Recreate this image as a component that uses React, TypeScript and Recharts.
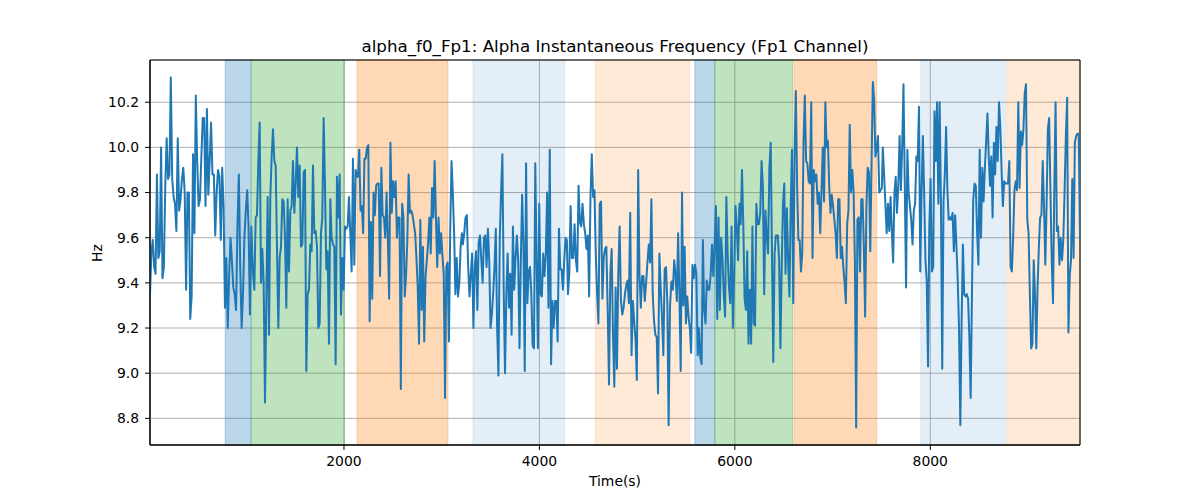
import { LineChart, Line, XAxis, YAxis, CartesianGrid, ReferenceArea } from 'recharts';

// axis limits and ticks
const X_MIN = 15;
const X_MAX = 9532;
const Y_MIN = 8.682;
const Y_MAX = 10.387;
const X_TICKS = [2000, 4000, 6000, 8000];
const Y_TICKS = [8.8, 9.0, 9.2, 9.4, 9.6, 9.8, 10.0, 10.2];

// alpha frequency (Hz), read in ten stretches of the time axis
const hz1 = [9.35, 9.53, 9.59, 9.47, 9.44, 9.88, 9.51, 9.54, 10.0, 9.42, 9.47, 9.83, 10.04, 9.86, 9.88, 10.31, 9.86, 9.78, 9.75, 9.63, 10.04, 9.72, 9.77, 9.86, 9.91, 9.8, 9.37, 9.8, 9.8, 9.24, 9.34, 9.97, 9.62, 10.23, 9.94, 9.74, 9.77, 9.96, 10.13, 10.13, 9.74, 10.17, 9.79, 9.94, 10.11, 9.88, 9.88, 9.61, 9.8, 9.9, 9.87, 9.59, 9.91, 9.74, 9.29, 9.51, 9.2, 9.43, 9.6, 9.5, 9.38, 9.35, 9.28, 9.65, 9.88, 9.47, 9.2, 9.35, 9.6, 9.72, 9.81, 9.65, 9.26, 9.65];
const hz2 = [9.44, 9.37, 9.69, 9.7, 9.94, 10.11, 9.4, 9.55, 9.4, 8.87, 9.32, 9.78, 9.17, 9.78, 9.96, 10.08, 9.94, 9.92, 9.56, 9.2, 9.51, 9.56, 9.77, 9.76, 9.6, 9.29, 9.77, 9.45, 9.72, 9.74, 9.94, 9.71, 9.84, 10.0, 9.78, 9.92, 9.56, 9.57, 9.89, 9.9, 9.01, 9.35, 9.37, 9.57, 9.54, 9.92, 9.62, 9.63, 9.56, 9.2, 9.22, 9.62, 9.69, 10.13, 9.83, 9.46, 9.54, 9.13, 9.77, 9.6, 9.57, 9.56, 9.04, 9.87, 9.69, 9.88, 9.26, 9.51, 9.37, 9.65, 9.64, 9.65, 9.78, 9.62, 9.45, 9.95, 9.48, 9.9, 9.87];
const hz3 = [9.87, 9.99, 9.72, 9.74, 9.62, 9.95, 9.95, 10.0, 10.01, 9.23, 9.67, 9.33, 9.8, 9.7, 9.83, 9.84, 9.84, 9.43, 9.91, 9.7, 9.69, 9.6, 9.8, 9.6, 9.33, 10.02, 9.71, 9.85, 9.78, 9.85, 9.6, 9.69, 9.69, 8.93, 9.75, 9.69, 9.34, 9.43, 9.59, 9.88, 9.71, 9.72, 9.7, 9.66, 9.62, 9.51, 9.38, 9.13, 9.68, 9.28, 9.56, 9.14, 9.43, 9.5, 9.58, 9.69, 9.53, 9.82, 9.69, 9.94, 9.69, 9.47, 9.69, 9.53, 9.62, 9.52, 9.44, 8.89, 9.47, 9.49, 9.14, 9.63, 9.94, 9.8, 9.62, 9.35, 9.51, 9.34, 9.4, 9.56, 9.62];
const hz4 = [9.57, 9.62, 9.69, 9.7, 9.47, 9.34, 9.44, 9.53, 9.2, 9.47, 9.54, 9.28, 9.58, 9.61, 9.5, 9.4, 9.6, 9.61, 9.47, 9.64, 9.5, 9.2, 9.26, 9.35, 9.47, 9.64, 9.2, 8.99, 9.59, 9.8, 9.97, 9.37, 9.0, 9.35, 9.53, 9.29, 9.44, 9.17, 9.65, 9.37, 9.51, 9.61, 9.5, 9.11, 9.49, 9.79, 9.57, 9.01, 9.93, 9.31, 9.45, 9.47, 9.35, 9.12, 9.11, 9.93, 9.5, 9.11, 9.75, 9.35, 9.34, 9.53, 9.43, 9.53, 9.8, 9.29, 9.99, 9.04, 9.32, 9.2, 9.32, 9.32, 9.14, 9.64, 9.46, 9.46, 9.37, 9.5, 9.6, 9.59];
const hz5 = [9.35, 9.44, 9.74, 9.51, 9.51, 9.66, 9.5, 9.45, 9.83, 9.67, 9.65, 9.75, 9.66, 9.62, 9.55, 9.61, 9.34, 9.78, 9.97, 9.78, 9.81, 9.53, 9.35, 9.22, 9.75, 9.76, 9.33, 9.51, 9.55, 9.56, 9.28, 8.95, 9.44, 9.55, 9.17, 8.94, 9.38, 9.02, 9.44, 9.65, 9.32, 9.26, 9.29, 9.35, 9.39, 9.41, 9.31, 9.71, 9.08, 9.32, 9.23, 9.15, 8.97, 9.9, 9.44, 9.29, 9.43, 9.43, 9.32, 9.4, 9.49, 9.57, 9.49, 9.77, 9.35, 9.23, 9.17, 9.16, 8.91, 9.53, 9.38, 9.25, 9.08, 9.46, 9.47, 9.32, 8.77, 9.29, 9.4, 9.41];
const hz6 = [9.37, 9.5, 9.44, 9.32, 9.62, 9.34, 9.01, 9.8, 9.3, 9.56, 9.22, 9.34, 9.25, 9.2, 9.09, 9.48, 9.42, 9.48, 9.44, 9.08, 9.2, 9.07, 9.04, 9.59, 9.28, 9.22, 9.41, 9.37, 9.37, 9.44, 9.57, 9.43, 9.57, 9.74, 9.24, 9.69, 9.28, 9.6, 9.51, 9.35, 9.25, 9.78, 9.53, 9.38, 9.31, 9.65, 9.2, 9.43, 9.74, 9.65, 9.5, 9.75, 9.66, 9.9, 9.66, 9.33, 9.28, 9.54, 9.13, 9.37, 9.13, 9.65, 9.22, 9.21, 9.75, 9.66, 9.66, 9.71, 9.94, 9.83, 9.35, 9.72, 9.6, 9.53, 9.91, 10.02, 9.53, 9.05, 9.53, 9.61];
const hz7 = [9.61, 9.5, 9.11, 9.47, 9.75, 9.84, 9.44, 9.73, 9.5, 9.34, 9.72, 9.99, 9.31, 9.97, 10.25, 9.83, 9.59, 9.59, 9.45, 9.53, 10.02, 10.23, 9.94, 9.93, 9.85, 9.84, 10.2, 9.51, 9.9, 9.85, 9.88, 9.75, 9.8, 9.62, 9.8, 10.0, 9.76, 10.2, 10.0, 10.03, 9.83, 9.71, 9.79, 9.74, 9.68, 9.62, 9.51, 9.77, 9.77, 9.51, 9.56, 9.47, 9.4, 9.31, 9.66, 9.72, 10.1, 9.8, 9.9, 9.8, 9.5, 8.76, 9.68, 9.69, 9.45, 9.77, 9.77, 9.56, 9.25, 9.74, 9.91, 9.89, 9.54, 9.93, 10.29, 10.21, 9.96, 9.99, 10.05, 9.8, 9.81, 9.82];
const hz8 = [10.0, 9.88, 9.75, 9.62, 9.75, 9.63, 9.78, 9.63, 9.49, 9.8, 9.87, 9.71, 9.83, 10.05, 9.81, 10.0, 10.28, 9.84, 9.38, 9.99, 9.8, 9.74, 9.68, 9.57, 9.72, 9.75, 9.96, 9.94, 10.18, 9.45, 9.8, 10.05, 9.8, 9.5, 9.41, 9.03, 9.65, 9.86, 9.45, 9.47, 10.16, 9.94, 10.2, 9.75, 10.2, 9.75, 9.02, 9.76, 9.88, 10.09, 9.81, 9.68, 9.69, 9.68, 9.71, 9.54, 9.7, 9.56, 9.41, 9.2, 8.77, 9.23, 9.57, 9.35, 9.34, 9.35, 9.33, 9.16, 8.89, 9.35, 9.77, 9.84, 9.83, 9.62, 9.48, 9.99, 9.6, 9.91, 9.76, 9.91, 10.03, 10.15];
const hz9 = [9.96, 9.83, 9.96, 9.69, 10.02, 9.88, 10.09, 9.94, 10.2, 10.09, 9.9, 9.74, 9.85, 9.84, 9.84, 9.84, 9.94, 9.47, 9.45, 9.6, 9.81, 9.85, 9.81, 10.2, 9.82, 10.07, 10.01, 10.08, 10.24, 10.28, 9.68, 9.62, 9.35, 9.11, 9.13, 9.5, 9.35, 9.11, 9.38, 9.56, 9.69, 9.7, 9.94, 9.74, 9.48, 9.74, 10.08, 10.13, 9.81, 9.5, 9.31, 9.81, 10.2, 9.63, 9.65, 9.48, 9.6, 9.5, 9.59, 9.8, 10.05, 10.22, 9.18, 9.43, 9.5, 9.86, 9.51, 10.02, 10.05, 10.06, 10.06, 9.59];

// first and last sample time (s) of each stretch above
const stretchStart = [15, 1069, 2143, 3217, 4292, 5366, 6440, 7514, 8598];
const stretchEnd = [1052, 2133, 3207, 4281, 5363, 6420, 7504, 8585, 9532];
const stretches = [hz1, hz2, hz3, hz4, hz5, hz6, hz7, hz8, hz9];

// shaded periods (s) and their kind
const spanStart = [785, 1052, 2133, 3320, 4571, 5591, 5795, 6604, 7903, 8783];
const spanEnd = [1048, 2005, 3064, 4258, 5537, 5795, 6590, 7450, 8769, 9532];
const spanKind = ['blue', 'green', 'orange', 'paleBlue', 'paleOrange', 'blue', 'green', 'orange', 'paleBlue', 'paleOrange'];

const SPAN_STYLE: Record<string, { color: string; alpha: number }> = {
  blue: { color: '#1f77b4', alpha: 0.3 },
  green: { color: '#2ca02c', alpha: 0.3 },
  orange: { color: '#ff7f0e', alpha: 0.3 },
  paleBlue: { color: '#1f77b4', alpha: 0.12 },
  paleOrange: { color: '#ff7f0e', alpha: 0.16 },
};

const data = stretches.flatMap((vals, k) =>
  vals.map((v, i) => ({
    t: stretchStart[k] + (i * (stretchEnd[k] - stretchStart[k])) / (vals.length - 1),
    v,
  })),
);

const FONT = '"DejaVu Sans", sans-serif';
const tickStyle = { fill: '#000', fontSize: 13.9, fontFamily: FONT };

export default function App() {
  return (
    <div style={{ position: 'absolute', left: 0, top: 0, width: 1200, height: 500, background: '#fff', fontFamily: FONT }}>
      <div style={{ position: 'absolute', left: 150, top: 35, width: 930, textAlign: 'center', fontSize: 16.7, lineHeight: '22px', color: '#000' }}>
        alpha_f0_Fp1: Alpha Instantaneous Frequency (Fp1 Channel)
      </div>
      <div style={{ position: 'absolute', left: 150, top: 471, width: 930, textAlign: 'center', fontSize: 13.9, lineHeight: '20px', color: '#000' }}>
        Time(s)
      </div>
      <div
        style={{
          position: 'absolute',
          left: 67,
          top: 243,
          width: 60,
          textAlign: 'center',
          fontSize: 13.9,
          lineHeight: '20px',
          color: '#000',
          transform: 'rotate(-90deg)',
        }}
      >
        Hz
      </div>
      <LineChart width={1200} height={500} data={data} margin={{ top: 60, right: 120, bottom: 15, left: 90 }}>
        <CartesianGrid stroke="#b0b0b0" strokeWidth={1} />
        {spanStart.map((s, i) => {
          const st = SPAN_STYLE[spanKind[i]];
          return (
            <ReferenceArea
              key={i}
              x1={s}
              x2={spanEnd[i]}
              fill={st.color}
              fillOpacity={st.alpha}
              stroke={st.color}
              strokeOpacity={st.alpha}
              strokeWidth={1}
            />
          );
        })}
        <XAxis
          type="number"
          dataKey="t"
          domain={[X_MIN, X_MAX]}
          allowDataOverflow
          ticks={X_TICKS}
          height={40}
          tick={tickStyle}
          tickSize={5}
          tickMargin={6}
          stroke="#000"
        />
        <YAxis
          type="number"
          domain={[Y_MIN, Y_MAX]}
          allowDataOverflow
          ticks={Y_TICKS}
          width={60}
          tick={tickStyle}
          tickSize={5}
          tickMargin={6}
          tickFormatter={(v: number) => v.toFixed(1)}
          stroke="#000"
        />
        <Line
          type="linear"
          dataKey="v"
          stroke="#1f77b4"
          strokeWidth={2}
          strokeLinejoin="round"
          dot={false}
          isAnimationActive={false}
        />
        <ReferenceArea x1={X_MIN} x2={X_MAX} y1={Y_MIN} y2={Y_MAX} fill="none" stroke="#000" strokeWidth={1} />
      </LineChart>
    </div>
  );
}
